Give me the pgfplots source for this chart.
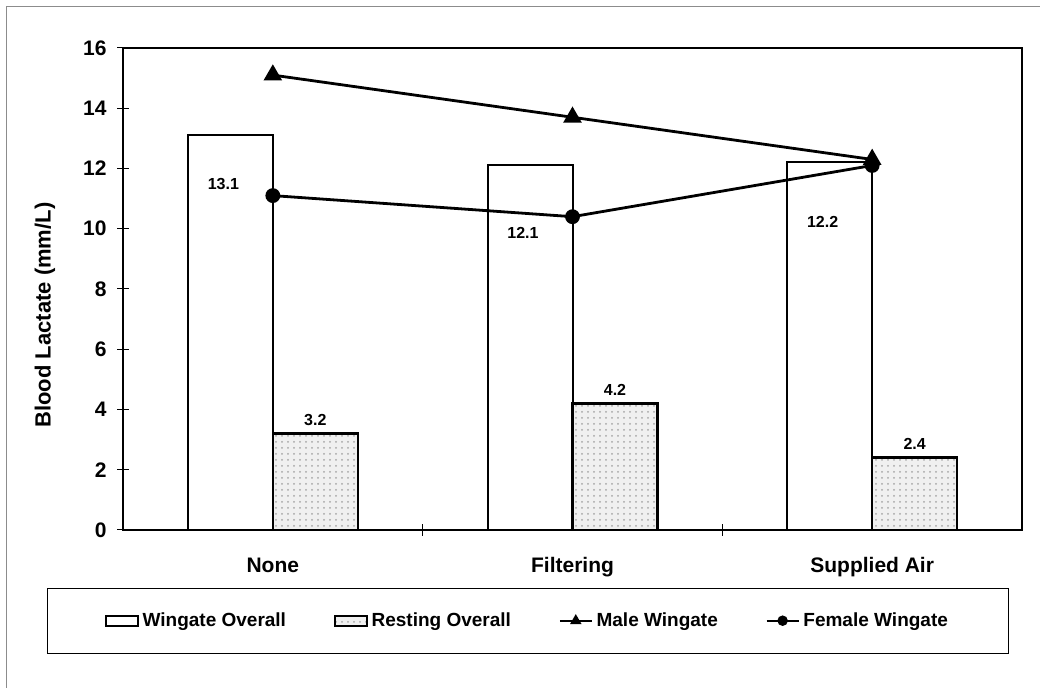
\documentclass[border=0pt]{standalone}
\usepackage{fontspec}
\setmainfont{Liberation Sans}
\usepackage{pgfplots}
\usepackage{pgfplotstable}
\pgfplotsset{compat=1.18}
\usetikzlibrary{patterns}

\pgfplotsset{
  barlegend/.style={legend image code/.code={\draw[##1, line width=0.8pt] (0pt,-2.5pt) rectangle (16pt,2.5pt);}},
  linelegend/.style={legend image code/.code={\draw[mark repeat=2,mark phase=2,##1, line width=0.8pt, mark size=#1] plot coordinates {(0pt,0pt)(8pt,0pt)(16pt,0pt)};}},
}

\pgfplotstableread{
x y off
0 13.1 24.5
1 12.1 33.5
2 12.2 29.5
}\wingate
\pgfplotstableread{
x y
0 3.2
1 4.2
2 2.4
}\resting

\begin{document}
\begin{tikzpicture}
\path[use as bounding box] (0,0) rectangle (520pt,344pt);
\draw[black!45, line width=0.5pt] (3pt,0) -- (3pt,340.5pt) -- (520pt,340.5pt);
\begin{axis}[
  at={(61.5pt,79pt)}, anchor=south west,
  scale only axis, width=449.5pt, height=241pt,
  xmin=-0.5, xmax=2.5, ymin=0, ymax=16,
  ytick={0,2,...,16},
  xtick={0,1,2}, xticklabels={None,Filtering,Supplied Air},
  minor xtick={0.5,1.5},
  every major x tick/.append style={draw=none},
  tick pos=left,
  tick align=center, major tick length=5.5pt, minor tick length=6pt,
  tick style={black, line width=0.5pt},
  axis line style={line width=0.6pt},
  ylabel={Blood Lactate (mm/L)},
  ylabel style={at={(axis description cs:-0.0868,0.446)}, anchor=center, font=\bfseries\fontsize{11}{13}\selectfont},
  tick label style={font=\bfseries\fontsize{10.5}{12}\selectfont},
  xticklabel style={anchor=north, text height=8pt, text depth=2pt, yshift=-7pt},
  yticklabel style={xshift=-2pt},
  /pgf/number format/assume math mode=true,
  legend columns=4,
  legend cell align=left,
  legend style={at={(axis description cs:0.451,-0.120)}, anchor=north, draw=black, line width=0.5pt,
    inner xsep=28.5pt, inner ysep=10pt, font=\bfseries\fontsize{9.5}{11}\selectfont,
    /tikz/every even column/.append style={column sep=22pt}},
]
\addplot[ybar, bar width=42.5pt, bar shift=-21.25pt, fill=white, draw=black, line width=1pt,
  visualization depends on={\thisrow{off} \as \off},
  nodes near coords,
  every node near coord/.append style={anchor=center, yshift={-\off pt}, xshift=-24.75pt, font=\bfseries\fontsize{8}{9}\selectfont},
  barlegend]
  table[x=x, y=y] {\wingate};
\addlegendentry{Wingate Overall}
\addplot[ybar, bar width=42.5pt, bar shift=21.25pt, fill=black!6, draw=black, line width=1.3pt,
  postaction={pattern=dots, pattern color=black!35},
  nodes near coords,
  every node near coord/.append style={xshift=21.25pt, font=\bfseries\fontsize{8}{9}\selectfont},
  barlegend]
  table[x=x, y=y] {\resting};
\addlegendentry{Resting Overall}
\addplot[black, line width=1.4pt, mark=triangle*, mark size=4pt, linelegend=2.5pt]
  coordinates {(0,15.1) (1,13.7) (2,12.3)};
\addlegendentry{Male Wingate}
\addplot[black, line width=1.4pt, mark=*, mark size=3pt, linelegend=2.2pt]
  coordinates {(0,11.1) (1,10.4) (2,12.1)};
\addlegendentry{Female Wingate}
\end{axis}
\end{tikzpicture}
\end{document}
